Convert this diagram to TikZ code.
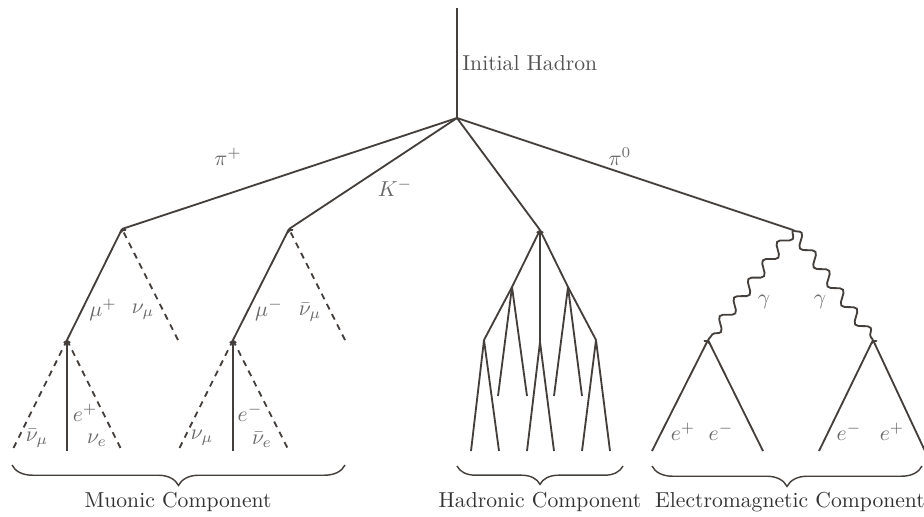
\RequirePackage{fix-cm}
\documentclass[tikz,border=0pt]{standalone}
\usetikzlibrary{decorations.pathmorphing,decorations.pathreplacing,arrows.meta}
\definecolor{linecol}{HTML}{453F3C}
\definecolor{labcol}{HTML}{6A6A6A}
\definecolor{textcol}{HTML}{333333}
\begin{document}
\begin{tikzpicture}[x=0.49pt,y=-0.49pt,
  every node/.style={font=\fontsize{10.6}{12.7}\selectfont},
  particle/.style={draw=linecol,line width=0.9pt},
  neutrino/.style={particle,dash pattern=on 3pt off 2.6pt},
  photon/.style={particle,decorate,decoration={snake,segment length=11.5pt,amplitude=2.6pt}},
  arrowin/.style={-{To[length=1.6pt,width=3.6pt]}},
  lab/.style={text=labcol,inner sep=0pt},
  comp/.style={text=textcol,anchor=base},
  brc/.style={draw=linecol,line width=0.7pt,decorate,decoration={brace,mirror,amplitude=10pt}}]
\useasboundingbox (0,0) rectangle (924,516);

% primary interaction
\coordinate (top) at (457,8);
\coordinate (V) at (457,118);
\coordinate (A) at (122,229);   % pi+ decay
\coordinate (C) at (289,229);   % K- decay
\coordinate (H0) at (540,230);  % hadronic cascade
\coordinate (E) at (793,230);   % pi0 decay

\draw[particle] (top) -- (V);
\draw[particle] (V) -- (A);
\draw[particle] (V) -- (C);
\draw[particle] (V) -- (H0);
\draw[particle] (V) -- (E);

\node[lab,anchor=west,text=textcol!85] (initial) at (462,63) {Initial Hadron};
\node[lab] (lpip) at (228,157) {$\pi^+$};
\node[lab] (lkm) at (395,188) {$K^-$};
\node[lab] (lpi0) at (620,157) {$\pi^0$};

% muonic branch: pi+ -> mu+ nu_mu, mu+ -> e+ nu_e nubar_mu
\coordinate (B) at (67,340);
\coordinate (A1) at (178,340);
\coordinate (B1) at (12,451);
\coordinate (B2) at (67,451);
\coordinate (B3) at (122,451);
\draw[particle] (A) -- (B);
\draw[neutrino,arrowin] (A1) -- (A);
\draw[neutrino] (B) -- (B1);
\draw[particle,arrowin] (B2) -- (B);
\draw[neutrino] (B) -- (B3);

\node[lab] (lmup) at (103,310) {$\mu^+$};
\node[lab] (lnumu1) at (143,312) {$\nu_\mu$};
\node[lab] (lnumub1) at (37,438) {$\bar\nu_\mu$};
\node[lab] (lep1) at (85,413) {$e^+$};
\node[lab] (lnue1) at (97,440) {$\nu_e$};

% muonic branch: K- -> mu- nubar_mu, mu- -> e- nubar_e nu_mu
\coordinate (D) at (233,340);
\coordinate (C1) at (345,340);
\coordinate (D1) at (178,451);
\coordinate (D2) at (233,451);
\coordinate (D3) at (289,451);
\draw[particle] (C) -- (D);
\draw[neutrino,arrowin] (C1) -- (C);
\draw[neutrino] (D) -- (D1);
\draw[particle,arrowin] (D2) -- (D);
\draw[neutrino] (D) -- (D3);

\node[lab] (lmum) at (269,310) {$\mu^-$};
\node[lab] (lnumub2) at (310,312) {$\bar\nu_\mu$};
\node[lab] (lnumu2) at (202,438) {$\nu_\mu$};
\node[lab] (lem2) at (250,413) {$e^-$};
\node[lab] (lnueb2) at (262,440) {$\bar\nu_e$};

% hadronic cascade
\coordinate (H1) at (512,287);
\coordinate (H2) at (484,340);
\coordinate (H3) at (568,287);
\coordinate (H4) at (596,340);
\coordinate (H5) at (540,342);
\draw[particle] (H0) -- (H1) -- (H2);
\draw[particle] (H0) -- (H3) -- (H4);
\draw[particle,arrowin] (H5) -- (H0);
\coordinate (h11) at (498,396); \coordinate (h12) at (527,396);
\coordinate (h31) at (554,396); \coordinate (h32) at (582,396);
\coordinate (h21) at (471,451); \coordinate (h22) at (499,451);
\coordinate (h51) at (527,451); \coordinate (h52) at (554,451);
\coordinate (h41) at (582,451); \coordinate (h42) at (610,451);
\draw[particle] (H1) -- (h11);
\draw[particle] (H1) -- (h12);
\draw[particle] (H3) -- (h31);
\draw[particle] (H3) -- (h32);
\draw[particle] (H2) -- (h21);
\draw[particle] (H2) -- (h22);
\draw[particle] (H5) -- (h51);
\draw[particle] (H5) -- (h52);
\draw[particle] (H4) -- (h41);
\draw[particle] (H4) -- (h42);

% electromagnetic cascade
\coordinate (G1) at (708,340);
\coordinate (G2) at (873,340);
\draw[photon] (E) -- (G1);
\draw[photon] (E) -- (G2);
\coordinate (g11) at (652,451); \coordinate (g12) at (763,451);
\coordinate (g21) at (819,451); \coordinate (g22) at (925,451);
\draw[particle,arrowin] (g11) -- (G1);
\draw[particle] (G1) -- (g12);
\draw[particle] (G2) -- (g21);
\draw[particle,arrowin] (g22) -- (G2);

\node[lab] (lg1) at (764,302) {$\gamma$};
\node[lab] (lg2) at (820,302) {$\gamma$};
\node[lab] (lep3) at (683,432) {$e^+$};
\node[lab] (lem3) at (721,432) {$e^-$};
\node[lab] (lem4) at (849,432) {$e^-$};
\node[lab] (lep4) at (892,432) {$e^+$};

% component braces
\coordinate (m1) at (12,465);  \coordinate (m2) at (345,465);
\coordinate (k1) at (457,466); \coordinate (k2) at (623,466);
\coordinate (q1) at (652,466); \coordinate (q2) at (922,466);
\draw[brc] (m1) -- (m2);
\draw[brc,decoration={amplitude=9pt}] (k1) -- (k2);
\draw[brc] (q1) -- (q2);

\node[comp] (muonic) at (178,507) {Muonic Component};
\node[comp] (hadronic) at (540,507) {Hadronic Component};
\node[comp] (em) at (790,507) {Electromagnetic Component};
\end{tikzpicture}
\end{document}
